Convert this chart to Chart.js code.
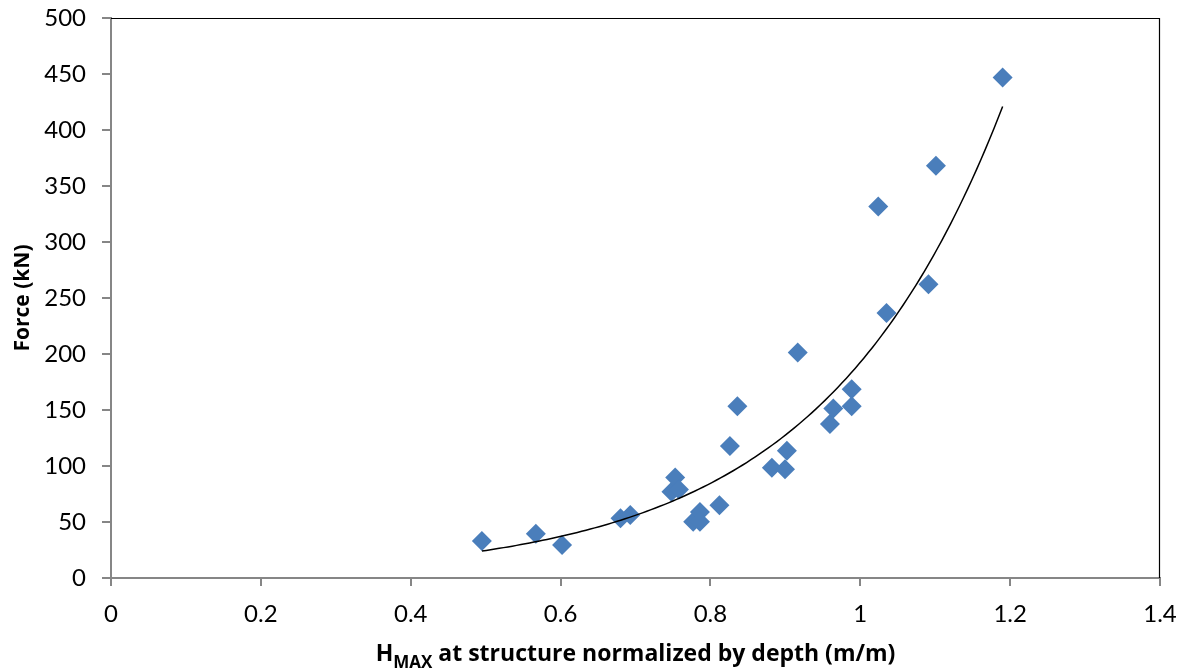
<!DOCTYPE html>
<html>
<head>
<meta charset="utf-8">
<title>Force vs normalized wave height</title>
<script src="https://cdn.jsdelivr.net/npm/chart.js@4.4.1/dist/chart.umd.min.js"></script>
<style>
  html, body { margin: 0; padding: 0; background: #ffffff; }
  #wrap { width: 1184px; height: 672px; position: relative; }
</style>
</head>
<body>
<div id="wrap"><canvas id="chart"></canvas></div>
<script>
// Measured wave height at the structure, normalized by water depth (m/m)
const hmaxNormalized = [
  0.495, 0.567, 0.602, 0.680, 0.693, 0.748, 0.753, 0.758, 0.777, 0.786,
  0.786, 0.812, 0.826, 0.836, 0.882, 0.8995, 0.902, 0.9165, 0.9595, 0.964,
  0.9885, 0.9885, 1.024, 1.035, 1.091, 1.101, 1.190
];
// Corresponding peak force on the structure (kN)
const forceKN = [
  33.0, 39.5, 29.4, 53.3, 56.2, 77.0, 89.8, 79.0, 50.2, 59.0,
  50.2, 65.0, 117.8, 153.4, 98.4, 97.0, 113.6, 201.3, 137.4, 151.4,
  168.6, 153.4, 331.6, 236.7, 262.3, 368.1, 446.9
];

const xTickValues = [0, 0.2, 0.4, 0.6, 0.8, 1, 1.2, 1.4];
const xTickLabels = ['0', '0.2', '0.4', '0.6', '0.8', '1', '1.2', '1.4'];
const yTickValues = [0, 50, 100, 150, 200, 250, 300, 350, 400, 450, 500];
const yTickLabels = ['0', '50', '100', '150', '200', '250', '300', '350', '400', '450', '500'];

const xTitleMain = 'H';
const xTitleSub = 'MAX';
const xTitleRest = ' at structure normalized by depth (m/m)';
const yTitle = 'Force (kN)';

// Exponential trendline y = a·e^(b·x), least-squares fit on ln(y)
function expFit(xs, ys) {
  const n = xs.length;
  const ly = ys.map(v => Math.log(v));
  const mx = xs.reduce((s, v) => s + v, 0) / n;
  const my = ly.reduce((s, v) => s + v, 0) / n;
  let sxy = 0, sxx = 0;
  for (let i = 0; i < n; i++) {
    sxy += (xs[i] - mx) * (ly[i] - my);
    sxx += (xs[i] - mx) * (xs[i] - mx);
  }
  const b = sxy / sxx;
  const a = Math.exp(my - b * mx);
  return { a, b };
}
const fit = expFit(hmaxNormalized, forceKN);
const xMin = Math.min(...hmaxNormalized);
const xMax = Math.max(...hmaxNormalized);
const trendPoints = [];
const steps = 120;
for (let i = 0; i <= steps; i++) {
  const x = xMin + (xMax - xMin) * i / steps;
  trendPoints.push({ x, y: fit.a * Math.exp(fit.b * x) });
}

const TICK_FONT = 'Lato';
const TITLE_FONT = '"Open Sans"';
const AXIS_GREY = '#868686';

// Top and right edges of the plot frame
const frameEdges = {
  id: 'frameEdges',
  beforeDatasetsDraw(chart) {
    const { ctx, chartArea: a } = chart;
    ctx.save();
    ctx.strokeStyle = '#000000';
    ctx.lineWidth = 1.2;
    ctx.beginPath();
    ctx.moveTo(a.left, a.top + 0.5);
    ctx.lineTo(a.right - 0.5, a.top + 0.5);
    ctx.lineTo(a.right - 0.5, a.bottom);
    ctx.stroke();
    ctx.restore();
  }
};

// X-axis title with the subscripted "MAX"
const xTitleWithSubscript = {
  id: 'xTitleWithSubscript',
  afterDraw(chart) {
    const { ctx, chartArea: a } = chart;
    const mainFont = `bold 23px ${TITLE_FONT}`;
    const subFont = `bold 17px ${TITLE_FONT}`;
    ctx.save();
    ctx.fillStyle = '#000000';
    ctx.textBaseline = 'alphabetic';
    ctx.textAlign = 'left';
    ctx.font = mainFont;
    const w1 = ctx.measureText(xTitleMain).width;
    const w3 = ctx.measureText(xTitleRest).width;
    ctx.font = subFont;
    const w2 = ctx.measureText(xTitleSub).width;
    const total = w1 + w2 + w3;
    let x = (a.left + a.right) / 2 - total / 2;
    const baseY = 661;
    ctx.font = mainFont;
    ctx.fillText(xTitleMain, x, baseY);
    x += w1;
    ctx.font = subFont;
    ctx.fillText(xTitleSub, x, baseY + 6.5);
    x += w2;
    ctx.font = mainFont;
    ctx.fillText(xTitleRest, x, baseY);
    ctx.restore();
  }
};

new Chart(document.getElementById('chart'), {
  type: 'scatter',
  data: {
    datasets: [
      {
        label: 'Exponential trend',
        data: trendPoints,
        showLine: true,
        borderColor: '#000000',
        borderWidth: 1.5,
        pointRadius: 0,
        tension: 0,
        order: 0
      },
      {
        label: 'Force',
        data: hmaxNormalized.map((x, i) => ({ x, y: forceKN[i] })),
        pointStyle: 'rectRot',
        pointRadius: 10,
        backgroundColor: '#4A7EBB',
        borderWidth: 0,
        order: 1
      }
    ]
  },
  options: {
    responsive: true,
    maintainAspectRatio: false,
    animation: false,
    events: [],
    layout: { padding: { top: 18, right: 24, left: 0, bottom: 0 } },
    plugins: {
      legend: { display: false },
      tooltip: { enabled: false }
    },
    scales: {
      x: {
        type: 'linear',
        min: 0,
        max: 1.4,
        afterBuildTicks(scale) { scale.ticks = xTickValues.map(v => ({ value: v })); },
        afterFit(scale) {
          scale.height = 94;
          scale.paddingLeft = 0;
          scale.paddingRight = 0;
        },
        border: { display: true, color: AXIS_GREY, width: 2 },
        grid: { drawOnChartArea: false, drawTicks: true, tickLength: 8, color: AXIS_GREY, lineWidth: 2 },
        ticks: {
          callback: (v, i) => xTickLabels[i],
          color: '#000000',
          font: { family: TICK_FONT, size: 24 },
          padding: 14,
          maxRotation: 0,
          autoSkip: false
        }
      },
      y: {
        type: 'linear',
        min: 0,
        max: 500,
        afterBuildTicks(scale) { scale.ticks = yTickValues.map(v => ({ value: v })); },
        afterFit(scale) {
          scale.width = 111;
          scale.paddingTop = 0;
          scale.paddingBottom = 0;
        },
        border: { display: true, color: AXIS_GREY, width: 2 },
        grid: { drawOnChartArea: false, drawTicks: true, tickLength: 9, color: AXIS_GREY, lineWidth: 2 },
        ticks: {
          callback: (v, i) => yTickLabels[i],
          color: '#000000',
          font: { family: TICK_FONT, size: 24 },
          padding: 16,
          autoSkip: false
        },
        title: {
          display: true,
          text: yTitle,
          color: '#000000',
          font: { family: TITLE_FONT, size: 21, weight: 'bold' },
          padding: { top: 10, bottom: 0 }
        }
      }
    }
  },
  plugins: [frameEdges, xTitleWithSubscript]
});
</script>
</body>
</html>
